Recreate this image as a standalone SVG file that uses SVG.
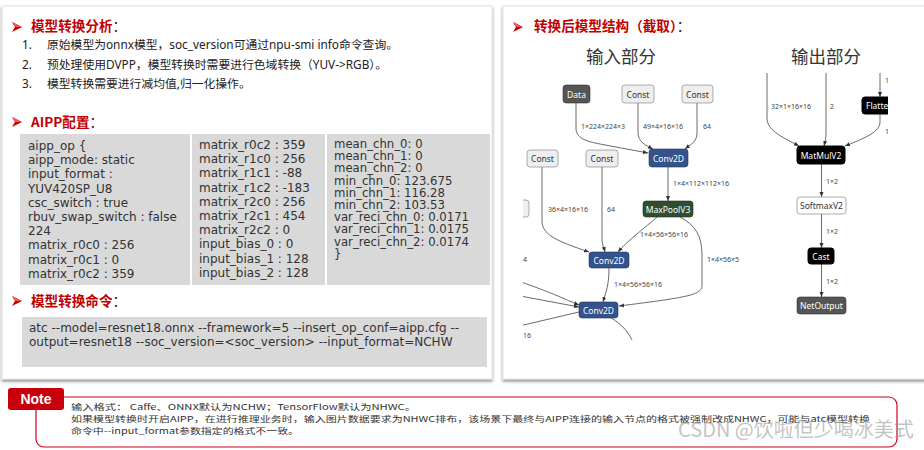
<svg xmlns="http://www.w3.org/2000/svg" width="924" height="450" viewBox="0 0 924 450">
<style>
.card{fill:#fff;stroke:#e2e2e2;stroke-width:1}
.ttl{font-family:"Noto Sans CJK SC","Noto Sans",sans-serif;font-weight:700;font-size:13.6px;fill:#c00000}
.colon{font-weight:400;fill:#222}
.li{font-family:"Noto Sans","Noto Sans CJK SC",sans-serif;font-size:11.8px;fill:#222}
.tb{fill:#d9d9d9}
.mono{font-family:"DejaVu Sans",Verdana,sans-serif;font-size:12px;fill:#333}
.mono3{font-family:"DejaVu Sans",Verdana,sans-serif;font-size:11.7px;fill:#333}
.hd{font-family:"Noto Sans CJK SC",sans-serif;font-size:17.5px;fill:#333}
.nl{font-family:"Noto Sans",sans-serif;font-size:8.5px;text-anchor:middle;dominant-baseline:central}
.el{font-family:"Noto Sans",sans-serif;font-size:7px;fill:#444;dominant-baseline:central}
.e{fill:none;stroke:#444;stroke-width:0.8}
.nt{font-family:"Noto Sans CJK SC",sans-serif;font-size:8.2px;fill:#333;dominant-baseline:central}
.conv{fill:#34528c;stroke:#22375f;stroke-width:0.6}
.cst{fill:#eeeeee;stroke:#8a8a8a;stroke-width:0.7}
.blk{fill:#000;stroke:#000}
.gry{fill:#555;stroke:#333;stroke-width:0.6}
</style>
<defs>
<filter id="sh" x="-5%" y="-5%" width="110%" height="115%">
<feDropShadow dx="0" dy="2" stdDeviation="1.5" flood-color="#000" flood-opacity="0.45"/>
</filter>
<marker id="ah" viewBox="0 0 10 10" refX="10" refY="5" markerWidth="5" markerHeight="5" orient="auto" markerUnits="userSpaceOnUse">
<path d="M0,1 L10,5 L0,9 z" fill="#333"/>
</marker>
<clipPath id="clipIn"><rect x="523" y="70" width="220" height="275"/></clipPath>
<clipPath id="clipOut"><rect x="740" y="73" width="148" height="260"/></clipPath>
<g id="bullet"><path d="M0,0 L10,5 L0,10 L3,5 z" fill="#c00000"/><path d="M0,0 L10,5 L3,5 z" fill="#ff5050"/></g>
</defs>

<!-- cards -->
<g id="leftCard">
<rect class="card" x="2" y="6" width="490" height="373" filter="url(#sh)"/>
<use href="#bullet" x="12" y="22"/>
<text class="ttl" x="31" y="31">模型转换分析<tspan class="colon">：</tspan></text>
<g class="li">
<text x="22" y="49">1.</text><text x="47" y="49">原始模型为onnx模型，soc_version可通过npu-smi info命令查询。</text>
<text x="22" y="69">2.</text><text x="47" y="69">预处理使用DVPP，模型转换时需要进行色域转换（YUV-&gt;RGB）。</text>
<text x="22" y="88">3.</text><text x="47" y="88">模型转换需要进行减均值,归一化操作。</text>
</g>
<use href="#bullet" x="12" y="117"/>
<text class="ttl" x="31" y="127">AIPP配置<tspan class="colon">：</tspan></text>
<rect class="tb" x="20" y="134" width="170" height="151"/>
<rect class="tb" x="192" y="134" width="133" height="151"/>
<rect class="tb" x="327" y="134" width="163" height="151"/>
<g class="mono" dominant-baseline="central">
<text x="28" y="146">aipp_op {</text>
<text x="28" y="160.2">aipp_mode: static</text>
<text x="28" y="174.4">input_format :</text>
<text x="28" y="188.6">YUV420SP_U8</text>
<text x="28" y="202.8">csc_switch : true</text>
<text x="28" y="217">rbuv_swap_switch : false</text>
<text x="28" y="231.2">224</text>
<text x="28" y="245.4">matrix_r0c0 : 256</text>
<text x="28" y="259.6">matrix_r0c1 : 0</text>
<text x="28" y="273.8">matrix_r0c2 : 359</text>
<text x="199" y="145">matrix_r0c2 : 359</text>
<text x="199" y="159.2">matrix_r1c0 : 256</text>
<text x="199" y="173.4">matrix_r1c1 : -88</text>
<text x="199" y="187.6">matrix_r1c2 : -183</text>
<text x="199" y="201.8">matrix_r2c0 : 256</text>
<text x="199" y="216">matrix_r2c1 : 454</text>
<text x="199" y="230.2">matrix_r2c2 : 0</text>
<text x="199" y="244.4">input_bias_0 : 0</text>
<text x="199" y="258.6">input_bias_1 : 128</text>
<text x="199" y="272.8">input_bias_2 : 128</text>
</g>
<g class="mono3" dominant-baseline="central">
<text x="334" y="144">mean_chn_0: 0</text>
<text x="334" y="156.2">mean_chn_1: 0</text>
<text x="334" y="168.4">mean_chn_2: 0</text>
<text x="334" y="180.6">min_chn_0: 123.675</text>
<text x="334" y="192.8">min_chn_1: 116.28</text>
<text x="334" y="205">min_chn_2: 103.53</text>
<text x="334" y="217.2">var_reci_chn_0: 0.0171</text>
<text x="334" y="229.4">var_reci_chn_1: 0.0175</text>
<text x="334" y="241.6">var_reci_chn_2: 0.0174</text>
<text x="334" y="253.8">}</text>
</g>
<use href="#bullet" x="12" y="296"/>
<text class="ttl" x="31" y="306">模型转换命令<tspan class="colon">：</tspan></text>
<rect class="tb" x="22" y="317" width="465" height="50"/>
<g class="mono" dominant-baseline="central">
<text x="29" y="328">atc --model=resnet18.onnx --framework=5 --insert_op_conf=aipp.cfg --</text>
<text x="29" y="342">output=resnet18 --soc_version=&lt;soc_version&gt; --input_format=NCHW</text>
</g>
</g>

<g id="rightCard">
<rect class="card" x="503" y="6" width="430" height="373" filter="url(#sh)"/>
<use href="#bullet" x="513" y="22"/>
<text class="ttl" x="534" y="31">转换后模型结构（截取）<tspan class="colon">：</tspan></text>
<text class="hd" x="621" y="63" text-anchor="middle">输入部分</text>
<text class="hd" x="826" y="63" text-anchor="middle">输出部分</text>
</g>

<!-- connectors -->
<g id="connectors">
<g clip-path="url(#clipIn)">
<path class="e" d="M576,103 V128 C576,138 585,141 600,144 L648,153" marker-end="url(#ah)"/>
<path class="e" d="M638,103 V132 C638,142 645,145 653,149" marker-end="url(#ah)"/>
<path class="e" d="M697,103 V133 C697,142 690,145 685,149" marker-end="url(#ah)"/>
<path class="e" d="M668,167 V201" marker-end="url(#ah)"/>
<path class="e" d="M542,167 V222 C543,236 560,242 589,252" marker-end="url(#ah)"/>
<path class="e" d="M602,167 V238 C602,245 604,248 605,252" marker-end="url(#ah)"/>
<path class="e" d="M657,217 C645,228 628,240 618,252" marker-end="url(#ah)"/>
<path class="e" d="M680,217 C695,225 702,235 702,255 V285 C702,295 690,297 619,306" marker-end="url(#ah)"/>
<path class="e" d="M609,268 C609,285 606,292 603,302" marker-end="url(#ah)"/>
<path class="e" d="M515,280 C545,290 560,297 579,305" marker-end="url(#ah)"/>
<path class="e" d="M515,295 L579,307" marker-end="url(#ah)"/>
<path class="e" d="M579,312 L515,327"/>
<path class="e" d="M611,318 C620,323 627,330 632,340"/>
</g>
<g clip-path="url(#clipOut)">
<path class="e" d="M767,73 V118 C767,130 780,136 799,146" marker-end="url(#ah)"/>
<path class="e" d="M826,73 V132 C826,139 825,142 824,146" marker-end="url(#ah)"/>
<path class="e" d="M880,73 V97" marker-end="url(#ah)"/>
<path class="e" d="M880,114 V122 C880,132 865,138 845,146" marker-end="url(#ah)"/>
</g>
<path class="e" d="M821.5,164 V197" marker-end="url(#ah)"/>
<path class="e" d="M821.5,214 V248" marker-end="url(#ah)"/>
<path class="e" d="M821.5,264 V297" marker-end="url(#ah)"/>
<g id="edgeLabels">
<text class="el" x="581" y="126">1×224×224×3</text>
<text class="el" x="643" y="126">49×4×16×16</text>
<text class="el" x="703" y="126">64</text>
<text class="el" x="673" y="183">1×4×112×112×16</text>
<text class="el" x="548" y="209">36×4×16×16</text>
<text class="el" x="607" y="209">64</text>
<text class="el" x="640" y="234">1×4×56×56×16</text>
<text class="el" x="707" y="259">1×4×56×5</text>
<text class="el" x="614" y="284">1×4×56×56×16</text>
<text class="el" x="523" y="259">4</text>
<text class="el" x="523" y="335">16</text>
<text class="el" x="885" y="80">1</text>
<text class="el" x="771" y="106">32×1×16×16</text>
<text class="el" x="830" y="106">2</text>
<text class="el" x="885" y="131">1</text>
<text class="el" x="826" y="181">1×2</text>
<text class="el" x="826" y="231">1×2</text>
<text class="el" x="826" y="281">1×2</text>
</g>
</g>

<!-- nodes -->
<g id="n-data"><rect class="gry" x="563" y="85" width="27" height="18" rx="3"/><text class="nl" x="576.5" y="94" fill="#fff">Data</text></g>
<g id="n-const1"><rect class="cst" x="622" y="85" width="32" height="18" rx="3"/><text class="nl" x="638" y="94" fill="#333">Const</text></g>
<g id="n-const2"><rect class="cst" x="682" y="85" width="31" height="18" rx="3"/><text class="nl" x="697.5" y="94" fill="#333">Const</text></g>
<g id="n-conv1"><rect class="conv" x="649" y="149" width="39" height="18" rx="3"/><text class="nl" x="668.5" y="158" fill="#fff">Conv2D</text></g>
<g id="n-const3"><rect class="cst" x="527" y="150" width="31" height="17" rx="3"/><text class="nl" x="542.5" y="158.5" fill="#333">Const</text></g>
<g id="n-const4"><rect class="cst" x="586" y="150" width="32" height="17" rx="3"/><text class="nl" x="602" y="158.5" fill="#333">Const</text></g>
<g id="n-partial"><path class="cst" d="M523,200 H526 A3,3 0 0 1 529,203 V214 A3,3 0 0 1 526,217 H523"/></g>
<g id="n-maxpool"><rect x="643" y="201" width="50" height="16" rx="3" fill="#2f4d2f" stroke="#1e331e" stroke-width="0.6"/><text class="nl" x="668" y="209" fill="#fff">MaxPoolV3</text></g>
<g id="n-conv2"><rect class="conv" x="589" y="252" width="40" height="16" rx="3"/><text class="nl" x="609" y="260" fill="#fff">Conv2D</text></g>
<g id="n-conv3"><rect class="conv" x="579" y="302" width="39" height="16" rx="3"/><text class="nl" x="598.5" y="310" fill="#fff">Conv2D</text></g>
<g id="n-flatten" clip-path="url(#clipOut)"><rect class="blk" x="862" y="97" width="40" height="17" rx="3"/><text class="nl" x="866" y="105.5" fill="#fff" style="text-anchor:start">Flatten</text></g>
<g id="n-matmul"><rect class="blk" x="797" y="146" width="48" height="18" rx="3"/><text class="nl" x="821" y="155" fill="#fff">MatMulV2</text></g>
<g id="n-softmax"><rect x="797" y="197" width="49" height="17" rx="3" fill="#fff" stroke="#888" stroke-width="0.7"/><text class="nl" x="821.5" y="205.5" fill="#333">SoftmaxV2</text></g>
<g id="n-cast"><rect class="blk" x="808" y="248" width="26" height="16" rx="3"/><text class="nl" x="821" y="256" fill="#fff">Cast</text></g>
<g id="n-netout"><rect class="gry" x="797" y="297" width="49" height="17" rx="3"/><text class="nl" x="821.5" y="305.5" fill="#fff">NetOutput</text></g>

<!-- note -->
<g id="note">
<path d="M64,397 H889 A8,8 0 0 1 897,405 V439 A8,8 0 0 1 889,447 H44 A8,8 0 0 1 36,439 V410" fill="none" stroke="#d0021b" stroke-width="1.2"/>
<rect x="8" y="388" width="56" height="22" rx="3" fill="#c7000b"/>
<text x="36" y="404" text-anchor="middle" font-family="Liberation Sans, sans-serif" font-weight="700" font-size="14" fill="#fff">Note</text>
<text class="nt" x="71" y="406" textLength="345" lengthAdjust="spacingAndGlyphs">输入格式： Caffe、ONNX默认为NCHW；TensorFlow默认为NHWC。</text>
<text class="nt" x="71" y="418" textLength="799" lengthAdjust="spacingAndGlyphs">如果模型转换时开启AIPP，在进行推理业务时，输入图片数据要求为NHWC排布，该场景下最终与AIPP连接的输入节点的格式被强制改成NHWC，可能与atc模型转换</text>
<text class="nt" x="71" y="430" textLength="228" lengthAdjust="spacingAndGlyphs">命令中--input_format参数指定的格式不一致。</text>
</g>
<text x="678" y="437" font-family="Noto Sans CJK SC, sans-serif" font-size="20" fill="#9a9a9a" fill-opacity="0.6">CSDN @饮啦但少喝冰美式</text>
</svg>
